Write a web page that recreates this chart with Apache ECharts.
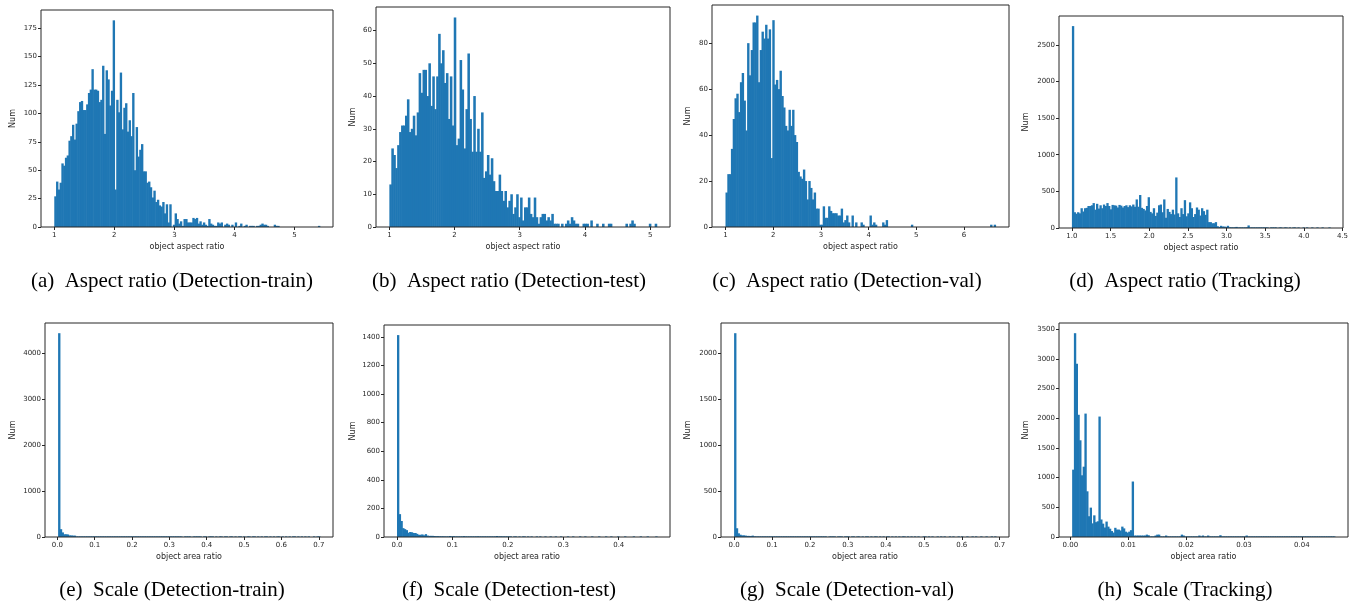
<!DOCTYPE html>
<html><head><meta charset="utf-8">
<script src="https://cdn.jsdelivr.net/npm/echarts@6/dist/echarts.min.js"></script>
<style>html,body{margin:0;padding:0;background:#fff}#c{width:1355px;height:601px}</style>
</head><body><div id="c"></div>
<script>
// ---- data: histogram counts per bin ----
const countsA = [27,40,33,39,56,54,61,63,76,80, 90,77,91,102,110,111,103,103,108,118, 121,139,121,121,120,110,112,142,82,138,
 130,107,120,182,33,112,101,136,86,105, 109,84,94,80,118,50,88,62,68,73, 49,49,39,40,35,26,32,22,24,19,
 18,22,12,20,4,20,0,2,12,7, 3,5,1,7,7,4,4,4,8,7, 8,3,5,2,4,2,1,7,3,2, 1,1,4,3,4,0,2,3,2,0,
 2,0,4,0,1,3,0,1,2,0, 1,1,1,0,1,1,2,3,2,2, 1,0,0,0,2,1,1,0,0,0, 0,0,0,0,0,0,0,0,0,0, 0,0,0,0,0,0,0,0,0,1];
const countsB = [13,24,22,18,25,29,31,31,34,39, 29,30,34,28,35,47,41,48,48,40, 50,37,46,36,46,59,50,54,44,47,
 33,46,31,64,25,27,51,42,24,36, 53,33,23,40,23,30,23,35,15,17, 22,16,21,14,11,11,16,11,8,11,
 6,8,10,4,6,10,3,9,2,6, 6,9,4,3,9,3,1,3,4,4, 2,3,2,4,1,1,1,0,1,0, 1,2,1,3,2,1,1,0,0,1,
 1,1,0,2,0,0,1,0,0,1, 0,0,1,1,0,0,0,0,0,0, 0,1,0,1,2,1,0,0,0,0, 0,0,0,1,0,0,1];
const countsC = [15,23,23,34,47,56,58,50,63,67, 55,42,80,66,77,89,89,92,63,77, 85,82,88,82,86,30,90,62,64,60,
 68,57,52,44,42,51,44,51,40,37, 24,22,21,25,20,12,20,17,12,15, 8,8,1,1,9,4,4,9,7,6,
 6,6,5,5,8,2,3,5,2,0, 5,0,2,0,0,2,1,0,0,0, 5,1,2,1,0,0,0,2,1,3, 0,0,0,0,0,0,0,0,0,0,
 0,0,0,1,0,0,0,0,0,0, 0,0,0,0,0,0,0,0,0,0, 0,0,0,0,0,0,0,0,0,0, 0,0,0,0,0,0,0,0,0,0, 0,0,0,0,0,0,0,1,0,1];
const countsD = [2755,215,195,215,200,270,225,270,275,300, 300,310,340,250,330,265,310,270,320,300,
 340,300,255,315,310,305,280,315,305,280, 300,310,285,310,295,320,290,390,290,450,
 275,260,240,300,420,220,200,270,165,210, 310,320,215,390,140,260,220,190,250,185,
 690,200,150,270,190,380,160,200,350,270, 150,190,280,250,170,270,230,180,250,80,
 80,65,65,80,25,15,30,20,20,15, 30,10,10,5,10,15,5,5,3,5, 8,10,35,3,2,2,1,2,1,1,
 1,2,1,1,0,1,1,2,1,0, 1,1,0,1,1,0,1,0,1,1, 0,1,0,0,1,0,1,0,0,1, 0,0,1,0,0,1,0,0,0,1];
const countsE = [4437,170,100,60,60,55,35,35,30,30, 12,10,10,9,8,8,7,7,6,6, 5,5,5,4,4,4,4,3,3,3,
 3,2,3,2,2,3,2,2,1,2, 2,1,2,2,1,1,2,1,2,1, 1,1,2,1,1,1,1,2,1,1, 1,1,1,1,2,1,1,1,1,1,
 1,0,1,1,1,1,0,1,1,1, 1,1,0,1,1,0,1,1,1,0, 1,0,1,1,0,1,1,0,1,1, 0,1,0,1,1,0,1,0,1,1,
 0,1,1,0,1,0,1,0,1,1, 0,1,0,1,0,1,1,0,1,0, 1,0,1,0,1,1,0,1,0,1, 0,1,0,1,0,0,1,0,1,1];
const countsF = [1413,160,112,62,55,48,30,35,33,28, 28,22,15,16,18,12,20,10,8,8, 8,7,6,6,5,5,5,3,4,3,
 7,3,6,4,3,2,4,2,6,2, 2,3,1,2,2,1,5,2,1,2, 4,1,1,2,1,1,1,7,1,5, 1,3,1,1,4,1,0,1,1,0,
 1,0,1,1,0,1,0,1,0,0, 1,0,1,0,0,1,0,0,1,0, 0,1,0,0,1,0,0,0,1,0, 0,1,0,0,0,1,0,0,1,0,
 0,0,1,0,0,0,1,0,0,0, 1,0,0,1,0,0,0,1,0,0, 0,1,0,0,0,0,1,0,0,0, 1,0,0,0,1,0,0,0,0,1];
const countsG = [2215,95,40,25,18,18,15,12,12,10, 15,8,6,5,5,4,4,3,3,3,
 3,2,2,3,2,2,2,1,2,2, 1,2,1,2,1,1,2,1,1,1, 2,1,1,1,1,1,2,1,1,1, 1,1,1,0,1,1,1,1,0,1,
 1,1,0,1,1,1,0,1,1,0, 1,1,0,1,0,1,1,0,1,0, 1,1,0,1,0,1,0,1,1,0, 1,0,1,0,1,0,1,1,0,1,
 0,1,0,1,0,1,0,0,1,1, 0,1,0,1,0,0,1,0,1,0, 1,0,0,1,0,1,0,0,1,0, 1,0,0,1,0,0,1,0,1,0, 0,1,0,0,1,0,0,1,0,1];
const countsH = [1135,3435,2920,2060,1630,1040,1185,2080,770,350, 495,230,365,250,265,2030,295,225,160,260,
 175,140,100,75,155,125,125,110,175,145, 90,75,90,115,935,25,25,25,25,25,
 25,25,40,30,5,5,5,25,40,40, 5,5,5,25,5,5,5,5,5,5, 5,5,40,25,5,5,5,5,5,5, 5,5,25,5,25,5,5,25,5,5,
 5,5,5,5,30,5,5,5,5,5, 5,5,5,5,5,5,5,5,5,25, 5,3,3,5,3,3,2,3,3,2, 3,2,2,3,2,2,2,3,2,2,
 2,2,1,2,2,1,2,2,1,2, 1,2,1,1,2,1,1,2,1,1, 1,1,2,1,1,1,1,1,1,2];

// bin ranges [first edge, last edge]
const rangeA = [1, 5.42], rangeB = [1, 5.10], rangeC = [1, 6.66], rangeD = [1, 4.34];
const rangeE = [0.002, 0.703], rangeF = [0, 0.469], rangeG = [0, 0.69], rangeH = [0.0003, 0.0457];

// tick labels
const xTicksA = [1,2,3,4,5], yTicksA = [0,25,50,75,100,125,150,175];
const xTicksB = [1,2,3,4,5], yTicksB = [0,10,20,30,40,50,60];
const xTicksC = [1,2,3,4,5,6], yTicksC = [0,20,40,60,80];
const xTicksD = [1.0,1.5,2.0,2.5,3.0,3.5,4.0,4.5], yTicksD = [0,500,1000,1500,2000,2500];
const xTicksE = [0.0,0.1,0.2,0.3,0.4,0.5,0.6,0.7], yTicksE = [0,1000,2000,3000,4000];
const xTicksF = [0.0,0.1,0.2,0.3,0.4], yTicksF = [0,200,400,600,800,1000,1200,1400];
const xTicksG = [0.0,0.1,0.2,0.3,0.4,0.5,0.6,0.7], yTicksG = [0,500,1000,1500,2000];
const xTicksH = [0.00,0.01,0.02,0.03,0.04], yTicksH = [0,500,1000,1500,2000,2500,3000,3500];

const captions = ['(a)  Aspect ratio (Detection-train)', '(b)  Aspect ratio (Detection-test)',
  '(c)  Aspect ratio (Detection-val)', '(d)  Aspect ratio (Tracking)',
  '(e)  Scale (Detection-train)', '(f)  Scale (Detection-test)',
  '(g)  Scale (Detection-val)', '(h)  Scale (Tracking)'];
const xNames = ['object aspect ratio','object aspect ratio','object aspect ratio','object aspect ratio',
  'object area ratio','object area ratio','object area ratio','object area ratio'];
const yName = 'Num';

// ---- layout ----
const panels = [
  {c: countsA, r: rangeA, xt: xTicksA, yt: yTicksA, xd: 0, box: [41, 10, 292, 217], ng: 24},
  {c: countsB, r: rangeB, xt: xTicksB, yt: yTicksB, xd: 0, box: [376, 7, 294, 220], ng: 19},
  {c: countsC, r: rangeC, xt: xTicksC, yt: yTicksC, xd: 0, box: [712, 5, 297, 222], ng: 20},
  {c: countsD, r: rangeD, xt: xTicksD, yt: yTicksD, xd: 1, box: [1059, 16, 284, 212], ng: 29},
  {c: countsE, r: rangeE, xt: xTicksE, yt: yTicksE, xd: 1, box: [45, 323, 288, 214], ng: 28},
  {c: countsF, r: rangeF, xt: xTicksF, yt: yTicksF, xd: 1, box: [384, 325, 286, 212], ng: 27},
  {c: countsG, r: rangeG, xt: xTicksG, yt: yTicksG, xd: 1, box: [721, 323, 288, 214], ng: 29},
  {c: countsH, r: rangeH, xt: xTicksH, yt: yTicksH, xd: 2, box: [1059, 323, 289, 214], ng: 29}
];
const capX = [172, 509, 847, 1185];
const capY = [281, 590];

const INK = '#262626', BAR = '#1f77b4', FONT = 'DejaVu Sans';
const grid = [], xAxis = [], yAxis = [], series = [], graphic = [];

panels.forEach((p, i) => {
  const [lo, hi] = p.r;
  const n = p.c.length, w = (hi - lo) / n;
  const span = hi - lo;
  const ymax = Math.max(...p.c) * 1.05;
  grid.push({left: p.box[0], top: p.box[1], width: p.box[2], height: p.box[3],
    show: true, borderColor: INK, borderWidth: 1, containLabel: false, z: 3});
  xAxis.push({type: 'value', gridIndex: i, min: lo - 0.05 * span, max: hi + 0.05 * span,
    name: xNames[i], nameLocation: 'middle', nameGap: 16,
    nameTextStyle: {fontSize: 8, color: INK, fontFamily: FONT},
    axisLine: {show: false, onZero: false}, splitLine: {show: false},
    axisTick: {show: true, length: 3, inside: false, lineStyle: {color: INK}, customValues: p.xt},
    axisLabel: {customValues: p.xt, fontSize: 7, color: INK, fontFamily: FONT, margin: 5,
      formatter: v => Number(v).toFixed(p.xd)}});
  yAxis.push({type: 'value', gridIndex: i, min: 0, max: ymax,
    name: yName, nameLocation: 'middle', nameGap: p.ng,
    nameTextStyle: {fontSize: 8, color: INK, fontFamily: FONT},
    axisLine: {show: false, onZero: false}, splitLine: {show: false},
    axisTick: {show: true, length: 3, inside: false, lineStyle: {color: INK}, customValues: p.yt},
    axisLabel: {customValues: p.yt, fontSize: 7, color: INK, fontFamily: FONT, margin: 4,
      formatter: v => String(v)}});
  const data = p.c.map((v, k) => [lo + k * w, lo + (k + 1) * w, v]);
  series.push({type: 'custom', xAxisIndex: i, yAxisIndex: i, data: data, clip: true,
    encode: {x: [0, 1], y: 2}, silent: true,
    renderItem: (params, api) => {
      const y = api.value(2);
      if (!y) return null;
      const a = api.coord([api.value(0), 0]);
      const b = api.coord([api.value(1), y]);
      const yt = Math.min(a[1] - 0.6, b[1]);
      return {type: 'rect', shape: {x: a[0], y: yt, width: b[0] - a[0] + 0.6, height: a[1] - yt},
        style: {fill: BAR, stroke: null}};
    }});
  graphic.push({type: 'text', x: capX[i % 4], y: capY[Math.floor(i / 4)],
    style: {text: captions[i], fontSize: 21, fontFamily: 'Liberation Serif', fill: '#000',
      align: 'center', verticalAlign: 'middle'}});
});

const chart = echarts.init(document.getElementById('c'), null, {renderer: 'canvas'});
chart.setOption({animation: false, backgroundColor: '#fff', grid, xAxis, yAxis, series, graphic});
</script></body></html>
